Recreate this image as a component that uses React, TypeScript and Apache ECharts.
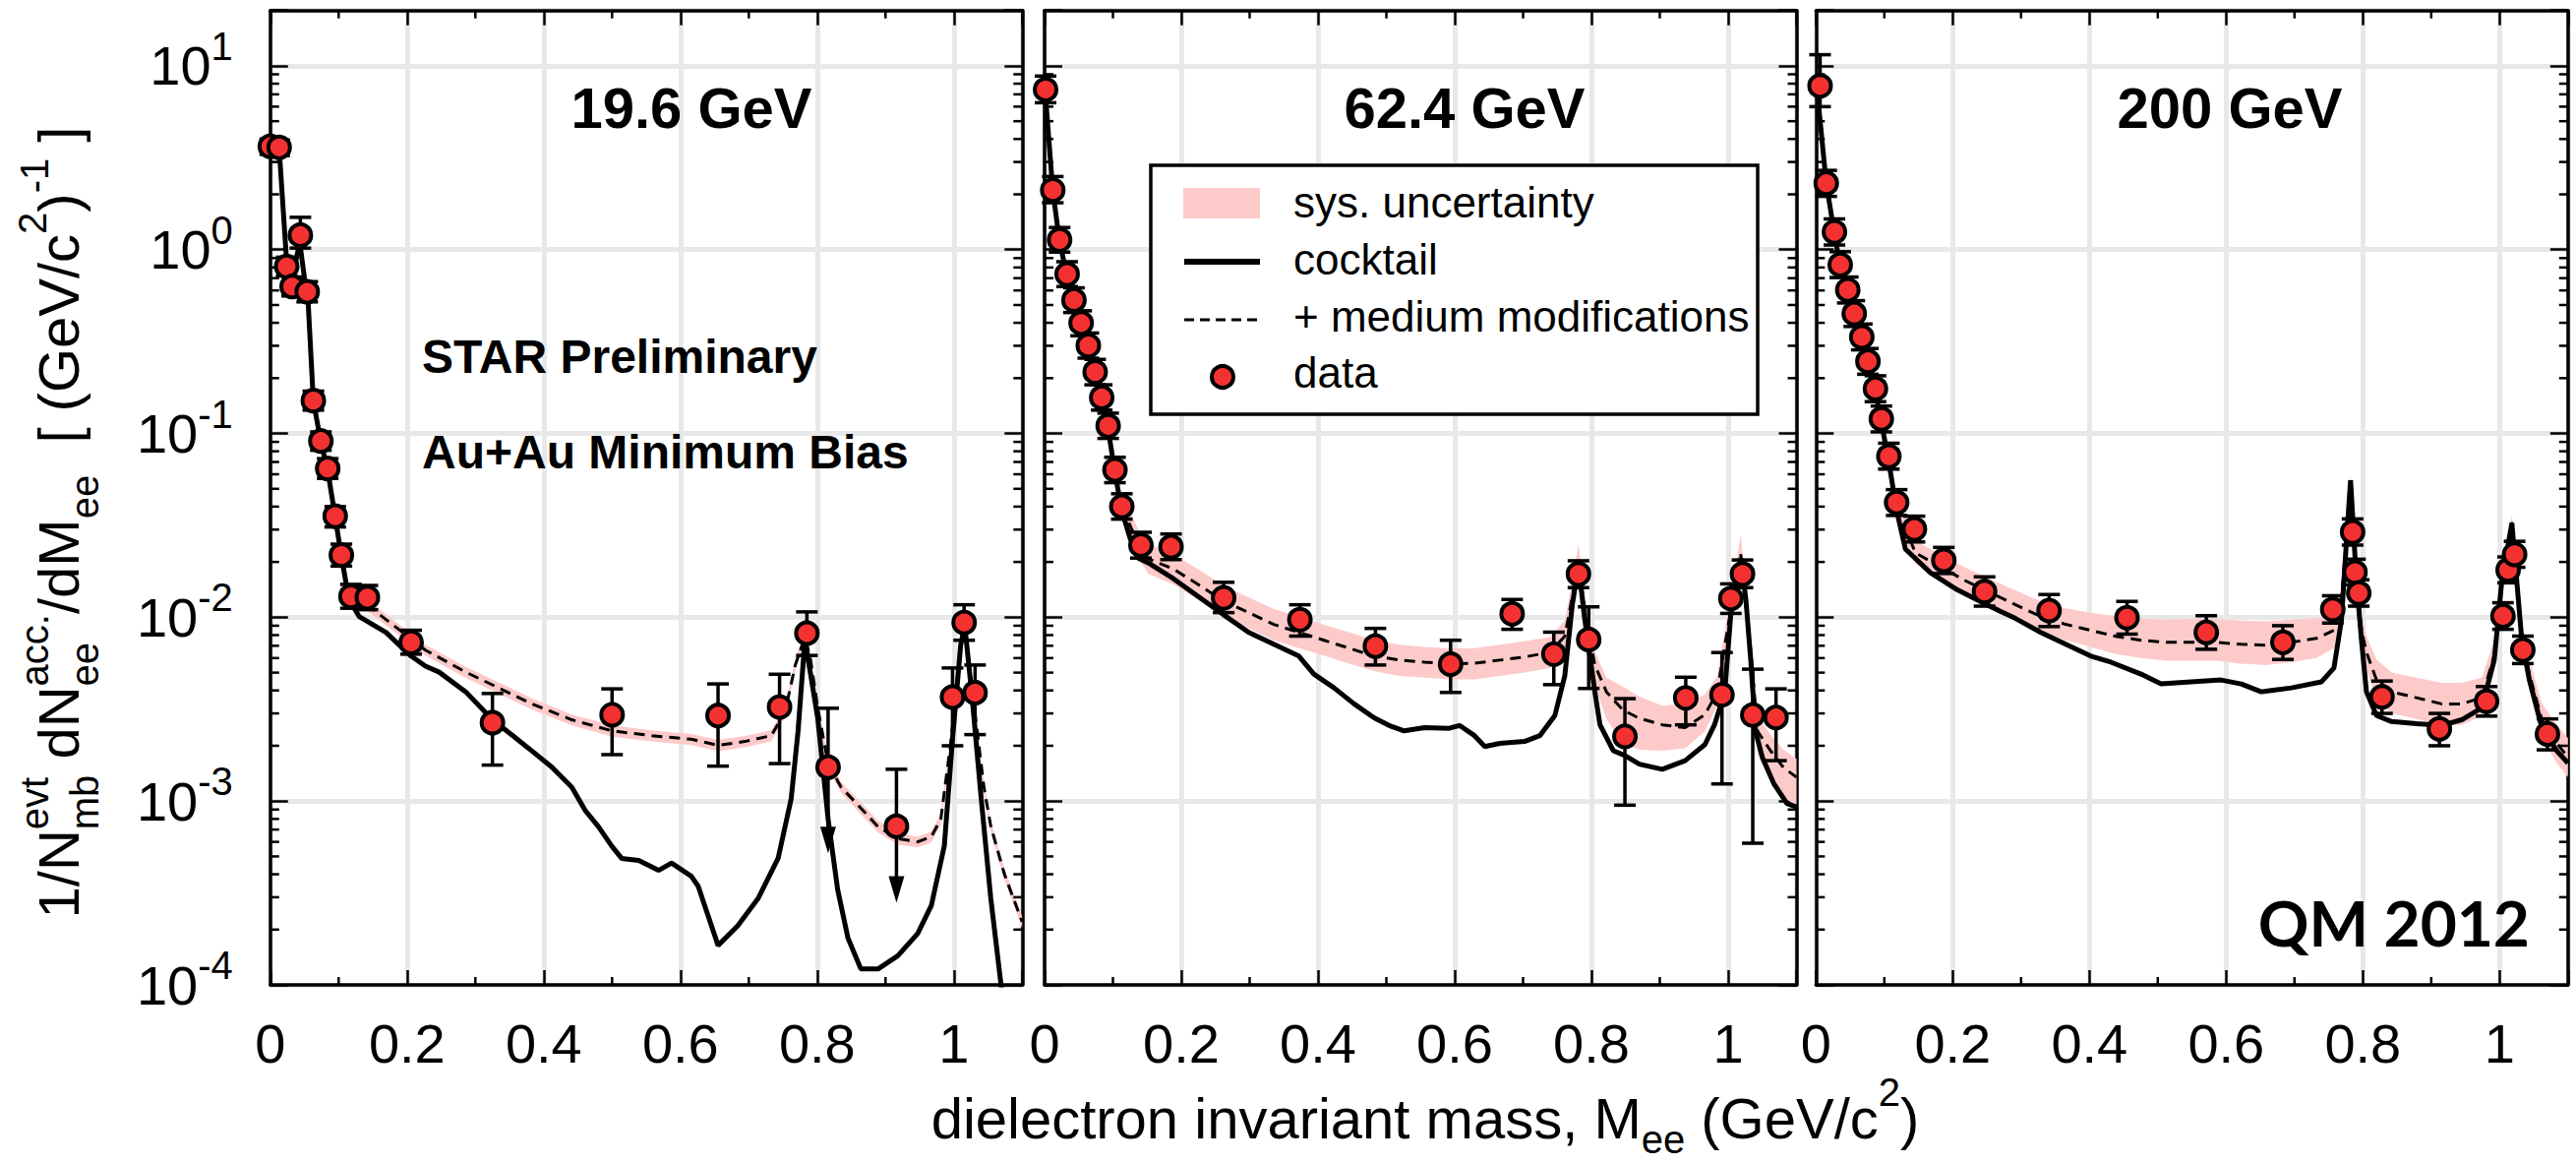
import React, { useEffect, useRef } from "react";
import * as echarts from "echarts";

const FONT = '"Liberation Sans", Arial, Helvetica, sans-serif';
const RED = "#f43131";
const PINK = "#fdcaca";
const GRIDLINE = "#e8e8e8";

// ---------------- 19.6 GeV ----------------
const pt19M = [0.0, 0.013, 0.024, 0.032, 0.044, 0.054, 0.063, 0.074, 0.084, 0.095, 0.104, 0.118, 0.142, 0.206, 0.325, 0.5, 0.655, 0.745, 0.785, 0.816, 0.916, 0.998, 1.015, 1.031];
const pt19Y = [3.65, 3.6, 0.81, 0.63, 1.2, 0.59, 0.151, 0.091, 0.0645, 0.0355, 0.0218, 0.013, 0.0128, 0.0073, 0.00267, 0.00295, 0.00292, 0.00325, 0.0082, 0.00153, 0.00073, 0.00368, 0.00937, 0.00389];
const lo19 = [3.3, 3.25, 0.72, 0.56, 1.02, 0.52, 0.134, 0.081, 0.057, 0.031, 0.019, 0.0112, 0.011, 0.0063, 0.00157, 0.00179, 0.00155, 0.0016, 0.0062, 0.00052, 0.00028, 0.002, 0.0075, 0.0023];
const hi19 = [4.0, 3.95, 0.91, 0.71, 1.5, 0.67, 0.17, 0.102, 0.073, 0.04, 0.025, 0.0151, 0.0149, 0.0085, 0.00385, 0.00408, 0.00434, 0.0049, 0.0107, 0.0032, 0.00149, 0.0053, 0.0117, 0.0055];
const lim19 = [0, 0, 0, 0, 0, 0, 0, 0, 0, 0, 0, 0, 0, 0, 0, 0, 0, 0, 0, 1, 1, 0, 0, 0];
const c19M = [0.0, 0.013, 0.024, 0.034, 0.043, 0.05, 0.055, 0.063, 0.074, 0.084, 0.095, 0.104, 0.115, 0.13, 0.169, 0.206, 0.227, 0.247, 0.286, 0.325, 0.354, 0.383, 0.412, 0.441, 0.461, 0.48, 0.5, 0.514, 0.539, 0.568, 0.587, 0.616, 0.626, 0.655, 0.684, 0.714, 0.743, 0.762, 0.772, 0.782, 0.79, 0.801, 0.816, 0.83, 0.845, 0.864, 0.889, 0.918, 0.947, 0.967, 0.986, 0.998, 1.01, 1.016, 1.027, 1.04, 1.054, 1.069, 1.085];
const c19Y = [3.8, 3.55, 0.85, 0.75, 1.1, 0.7, 0.55, 0.15, 0.09, 0.063, 0.035, 0.0215, 0.0125, 0.0101, 0.00828, 0.00615, 0.00542, 0.00503, 0.00393, 0.00277, 0.00228, 0.00187, 0.00153, 0.00119, 0.000886, 0.000726, 0.000566, 0.000488, 0.000476, 0.00042, 0.00046, 0.00039, 0.000344, 0.000164, 0.00021, 0.000297, 0.00049, 0.00103, 0.00239, 0.0075, 0.005, 0.0028, 0.0008, 0.00033, 0.00018, 0.000122, 0.000122, 0.000144, 0.00019, 0.00027, 0.00057, 0.00217, 0.0071, 0.009, 0.00356, 0.00103, 0.000296, 0.0001, 0.00004];
const d19M = [0.115, 0.145, 0.188, 0.227, 0.286, 0.334, 0.383, 0.441, 0.5, 0.558, 0.616, 0.655, 0.694, 0.733, 0.753, 0.768, 0.782, 0.79, 0.801, 0.816, 0.835, 0.86, 0.889, 0.918, 0.947, 0.967, 0.981, 0.996, 1.01, 1.016, 1.027, 1.044, 1.054, 1.074, 1.1];
const d19Y = [0.0125, 0.0114, 0.0086, 0.00663, 0.00503, 0.00413, 0.00338, 0.00277, 0.00241, 0.00227, 0.00217, 0.00201, 0.00211, 0.00227, 0.00306, 0.0055, 0.0078, 0.006, 0.0032, 0.0016, 0.00119, 0.00095, 0.000726, 0.000625, 0.0006, 0.00064, 0.0008, 0.00217, 0.0073, 0.0091, 0.004, 0.00119, 0.00073, 0.0004, 0.00022];
const s19Lo = [0.0116, 0.0106, 0.008, 0.0062, 0.00468, 0.00384, 0.00314, 0.00258, 0.00224, 0.00211, 0.00202, 0.00187, 0.00196, 0.00211, 0.00285, 0.0051, 0.0073, 0.0056, 0.003, 0.00149, 0.00111, 0.00088, 0.000675, 0.00058, 0.00056, 0.000595, 0.00074, 0.002, 0.0068, 0.0085, 0.0037, 0.0011, 0.00068, 0.00037, 0.000205];
const s19Hi = [0.0134, 0.0122, 0.0092, 0.0071, 0.00538, 0.00442, 0.00362, 0.00296, 0.00258, 0.00243, 0.00232, 0.00215, 0.00226, 0.00243, 0.00327, 0.0059, 0.0084, 0.0064, 0.0034, 0.00171, 0.00127, 0.00102, 0.00078, 0.00067, 0.00064, 0.000685, 0.00086, 0.0023, 0.0078, 0.0097, 0.0043, 0.00128, 0.00078, 0.00043, 0.000235];

// ---------------- 62.4 GeV ----------------
const pt62M = [0.0015, 0.012, 0.022, 0.033, 0.043, 0.0535, 0.064, 0.074, 0.0836, 0.093, 0.103, 0.113, 0.141, 0.185, 0.262, 0.3735, 0.484, 0.594, 0.684, 0.745, 0.781, 0.796, 0.849, 0.938, 0.991, 1.004, 1.021, 1.036, 1.07];
const pt62Y = [7.43, 2.11, 1.13, 0.736, 0.532, 0.399, 0.301, 0.216, 0.157, 0.11, 0.0634, 0.0401, 0.0247, 0.0242, 0.01276, 0.0097, 0.00697, 0.00556, 0.01045, 0.0063, 0.0172, 0.00757, 0.00225, 0.00364, 0.00379, 0.01265, 0.0172, 0.00294, 0.00285];
const lo62 = [6.3, 1.8, 0.97, 0.63, 0.455, 0.34, 0.257, 0.184, 0.134, 0.094, 0.054, 0.0342, 0.021, 0.0206, 0.0106, 0.0079, 0.0055, 0.0039, 0.0086, 0.0043, 0.0145, 0.0041, 0.00095, 0.0026, 0.00124, 0.0105, 0.0145, 0.00059, 0.00166];
const hi62 = [8.8, 2.5, 1.32, 0.86, 0.62, 0.465, 0.352, 0.253, 0.184, 0.129, 0.0742, 0.047, 0.029, 0.0284, 0.0155, 0.0117, 0.0087, 0.0075, 0.0125, 0.0083, 0.0203, 0.0114, 0.00361, 0.00472, 0.00643, 0.0152, 0.0205, 0.00522, 0.00408];
const lim62 = pt62M.map(() => 0);
const c62M = [0.0, 0.012, 0.022, 0.033, 0.043, 0.0535, 0.064, 0.074, 0.0836, 0.093, 0.103, 0.113, 0.125, 0.137, 0.152, 0.1886, 0.2253, 0.2615, 0.2987, 0.3354, 0.372, 0.394, 0.4235, 0.4528, 0.482, 0.504, 0.526, 0.556, 0.592, 0.607, 0.629, 0.644, 0.666, 0.702, 0.7245, 0.7465, 0.761, 0.772, 0.781, 0.7905, 0.805, 0.8125, 0.832, 0.849, 0.87, 0.9036, 0.937, 0.966, 0.98, 0.995, 1.004, 1.0185, 1.026, 1.033, 1.04, 1.05, 1.067, 1.086, 1.1];
const c62Y = [8.0, 2.1, 1.1, 0.72, 0.52, 0.39, 0.29, 0.21, 0.152, 0.106, 0.061, 0.038, 0.027, 0.021, 0.01975, 0.0162, 0.01294, 0.01035, 0.00828, 0.00713, 0.00615, 0.00491, 0.00413, 0.00338, 0.00284, 0.00258, 0.00241, 0.00251, 0.00249, 0.00258, 0.00227, 0.00198, 0.00206, 0.00211, 0.00227, 0.00292, 0.0048, 0.0117, 0.019, 0.0096, 0.00393, 0.0026, 0.00188, 0.00177, 0.00159, 0.00149, 0.00166, 0.00203, 0.0026, 0.00393, 0.0105, 0.021, 0.0124, 0.0059, 0.0024, 0.00173, 0.00124, 0.00097, 0.00093];
const d62M = [0.113, 0.137, 0.152, 0.1886, 0.2253, 0.2615, 0.2987, 0.3354, 0.372, 0.4088, 0.4455, 0.482, 0.519, 0.556, 0.592, 0.629, 0.666, 0.702, 0.739, 0.761, 0.772, 0.781, 0.7905, 0.805, 0.822, 0.846, 0.87, 0.904, 0.937, 0.966, 0.984, 1.0, 1.0185, 1.034, 1.043, 1.062, 1.081, 1.1];
const d62Y = [0.04, 0.025, 0.0208, 0.0183, 0.01503, 0.0123, 0.0106, 0.00915, 0.00828, 0.0075, 0.00679, 0.00615, 0.00585, 0.0057, 0.00557, 0.00562, 0.00585, 0.00608, 0.00645, 0.00788, 0.0129, 0.02, 0.0106, 0.0055, 0.00393, 0.00313, 0.00282, 0.0026, 0.00251, 0.00295, 0.00393, 0.009, 0.022, 0.006, 0.0024, 0.00188, 0.00152, 0.00135];
const s62Lo = [0.034, 0.021, 0.0172, 0.0151, 0.0124, 0.0101, 0.0087, 0.0075, 0.0068, 0.0062, 0.0056, 0.0051, 0.0048, 0.0047, 0.0046, 0.0046, 0.0048, 0.005, 0.0053, 0.0065, 0.0107, 0.0165, 0.0087, 0.0042, 0.0028, 0.00205, 0.0019, 0.00188, 0.00194, 0.0024, 0.0033, 0.0075, 0.0185, 0.0048, 0.0018, 0.00128, 0.00105, 0.00094];
const s62Hi = [0.047, 0.03, 0.025, 0.022, 0.0182, 0.0149, 0.0128, 0.0111, 0.0101, 0.0091, 0.0083, 0.0075, 0.0071, 0.0069, 0.0068, 0.0068, 0.0071, 0.0074, 0.0078, 0.0096, 0.0157, 0.025, 0.013, 0.0065, 0.0047, 0.0042, 0.0037, 0.0033, 0.0034, 0.0038, 0.0048, 0.011, 0.028, 0.0072, 0.0029, 0.0023, 0.0019, 0.0017];

// ---------------- 200 GeV ----------------
const pt200M = [0.006, 0.015, 0.027, 0.0355, 0.0465, 0.056, 0.067, 0.076, 0.087, 0.0956, 0.1066, 0.118, 0.144, 0.187, 0.2466, 0.341, 0.455, 0.571, 0.683, 0.756, 0.785, 0.7885, 0.794, 0.828, 0.912, 0.981, 1.005, 1.0125, 1.022, 1.034, 1.07];
const pt200Y = [7.78, 2.3, 1.25, 0.829, 0.604, 0.449, 0.335, 0.247, 0.1755, 0.12, 0.0752, 0.0421, 0.0302, 0.0204, 0.0138, 0.01088, 0.00995, 0.00828, 0.00731, 0.01104, 0.0291, 0.0176, 0.01355, 0.00369, 0.00247, 0.00349, 0.01018, 0.0181, 0.022, 0.00664, 0.00232];
const lo200 = [6.0, 1.95, 1.06, 0.705, 0.513, 0.382, 0.285, 0.21, 0.149, 0.102, 0.064, 0.0358, 0.0257, 0.0173, 0.0115, 0.0089, 0.0081, 0.0067, 0.0059, 0.0093, 0.0247, 0.015, 0.0115, 0.003, 0.002, 0.0029, 0.0086, 0.0154, 0.0187, 0.0056, 0.0019];
const hi200 = [11.5, 2.7, 1.47, 0.975, 0.71, 0.528, 0.394, 0.29, 0.206, 0.141, 0.0885, 0.0495, 0.0355, 0.024, 0.0166, 0.0133, 0.0122, 0.0102, 0.009, 0.0131, 0.0343, 0.0207, 0.016, 0.0045, 0.003, 0.0042, 0.012, 0.0213, 0.0259, 0.0079, 0.0028];
const lim200 = pt200M.map(() => 0);
const c200M = [0.0, 0.015, 0.027, 0.0355, 0.0465, 0.056, 0.067, 0.076, 0.087, 0.0956, 0.1066, 0.118, 0.1308, 0.1675, 0.2042, 0.2554, 0.292, 0.3288, 0.3654, 0.402, 0.4314, 0.4754, 0.5047, 0.5486, 0.5927, 0.622, 0.6514, 0.666, 0.6954, 0.7393, 0.7577, 0.7686, 0.776, 0.782, 0.7906, 0.798, 0.8053, 0.82, 0.842, 0.8786, 0.9153, 0.9446, 0.974, 0.9922, 1.0033, 1.018, 1.0325, 1.0436, 1.062, 1.084, 1.1];
const c200Y = [8.5, 2.3, 1.22, 0.81, 0.59, 0.44, 0.33, 0.24, 0.17, 0.115, 0.07, 0.038, 0.0235, 0.01746, 0.01429, 0.01143, 0.00985, 0.00828, 0.00713, 0.00615, 0.0057, 0.00491, 0.00434, 0.00445, 0.00456, 0.00434, 0.00393, 0.004, 0.00413, 0.00445, 0.0053, 0.0096, 0.026, 0.0556, 0.0158, 0.0075, 0.00393, 0.00292, 0.00271, 0.00264, 0.00258, 0.00277, 0.00322, 0.00585, 0.0158, 0.0325, 0.0075, 0.00456, 0.00251, 0.00187, 0.00161];
const d200M = [0.118, 0.1455, 0.1822, 0.2187, 0.2554, 0.292, 0.3288, 0.3654, 0.402, 0.4387, 0.4754, 0.512, 0.5486, 0.5853, 0.622, 0.6587, 0.6954, 0.732, 0.7577, 0.7686, 0.776, 0.782, 0.7906, 0.798, 0.8053, 0.82, 0.842, 0.8786, 0.9153, 0.9446, 0.974, 0.9922, 1.0033, 1.018, 1.0325, 1.0436, 1.062, 1.084, 1.1];
const d200Y = [0.04, 0.0224, 0.0188, 0.0158, 0.0136, 0.0117, 0.0101, 0.00915, 0.00849, 0.00788, 0.0075, 0.00731, 0.00731, 0.00731, 0.00713, 0.00705, 0.00731, 0.00768, 0.00849, 0.0123, 0.027, 0.0556, 0.0165, 0.0085, 0.00645, 0.00456, 0.00393, 0.00365, 0.00338, 0.00338, 0.00365, 0.0062, 0.016, 0.033, 0.0078, 0.0049, 0.00277, 0.00206, 0.00173];
const s200Lo = [0.034, 0.0195, 0.0162, 0.0135, 0.0115, 0.0098, 0.0084, 0.0075, 0.0069, 0.0063, 0.006, 0.0058, 0.0058, 0.0058, 0.0056, 0.0055, 0.0057, 0.006, 0.0068, 0.0105, 0.024, 0.05, 0.014, 0.0072, 0.0052, 0.0036, 0.003, 0.0028, 0.0026, 0.0026, 0.0029, 0.0052, 0.014, 0.03, 0.0066, 0.004, 0.0022, 0.0016, 0.00135];
const s200Hi = [0.047, 0.026, 0.022, 0.0186, 0.0161, 0.014, 0.0122, 0.0112, 0.0106, 0.0101, 0.0098, 0.0097, 0.0098, 0.0098, 0.0096, 0.0095, 0.0097, 0.0099, 0.0104, 0.0145, 0.03, 0.061, 0.0195, 0.0102, 0.0079, 0.0059, 0.005, 0.0047, 0.0044, 0.0044, 0.0047, 0.0075, 0.0185, 0.036, 0.0093, 0.0059, 0.0034, 0.0026, 0.0022];

const ENERGY_LABELS = ["19.6 GeV", "62.4 GeV", "200 GeV"];
const LEGEND_LABELS = ["sys. uncertainty", "cocktail", "+ medium modifications", "data"];

// axis ranges
const X_MAX = 1.1;
const X_STEP = 0.2;
const X_MINOR = [0.1, 0.3, 0.5, 0.7, 0.9];
const Y_MIN = 1e-4;
const Y_MAX = 20;

const PANELS = [
  { m: pt19M, y: pt19Y, lo: lo19, hi: hi19, lim: lim19, cm: c19M, cy: c19Y, dm: d19M, dy: d19Y, sLo: s19Lo, sHi: s19Hi },
  { m: pt62M, y: pt62Y, lo: lo62, hi: hi62, lim: lim62, cm: c62M, cy: c62Y, dm: d62M, dy: d62Y, sLo: s62Lo, sHi: s62Hi },
  { m: pt200M, y: pt200Y, lo: lo200, hi: hi200, lim: lim200, cm: c200M, cy: c200Y, dm: d200M, dy: d200Y, sLo: s200Lo, sHi: s200Hi },
];

// frame geometry (px)
const PLOT_TOP = 10.7;
const PLOT_H = 990.3;
const PLOT_W = 764.5;
const PLOT_LEFTS = [274.8, 1062, 1846.3];

// log minor tick positions 2..9 x 10^n
const Y_MINOR: number[] = [];
for (let e = -4; e <= 0; e++) for (let k = 2; k <= 9; k++) Y_MINOR.push(k * Math.pow(10, e));

const LINE = { color: "#000", width: 3.5 };

function xLabel(v: number) {
  const t = Math.round(v * 10);
  if (t > 10 || t % 2 !== 0) return "";
  if (t === 0) return "0";
  if (t === 10) return "1";
  return (t / 10).toFixed(1);
}

function decadeLabel(v: number) {
  const e = Math.round(Math.log10(v));
  if (Math.abs(v / Math.pow(10, e) - 1) > 1e-6) return "";
  return `{b|10}{s|${e}}`;
}

type Piece = { t: string; size: number; dy: number };
type Slot = Piece | Piece[];

function textEl(x: number, y: number, text: string, size: number, weight: string, align: string, extra: any = {}) {
  return {
    type: "text",
    x,
    y,
    z: 60,
    style: {
      text,
      fontSize: size,
      fontFamily: extra.family || FONT,
      fontWeight: weight,
      fill: "#000",
      align,
      textAlign: align,
      verticalAlign: "middle",
      textVerticalAlign: "middle",
    },
  };
}

function buildPieces(slots: Slot[]) {
  const canvas = document.createElement("canvas");
  const ctx = canvas.getContext("2d") as CanvasRenderingContext2D;
  let x = 0;
  const children: any[] = [];
  for (const s of slots) {
    const group = Array.isArray(s) ? s : [s];
    let w = 0;
    for (const p of group) {
      children.push(textEl(x, p.dy - 0.35 * p.size, p.t, p.size, "normal", "left"));
      ctx.font = `${p.size}px "Liberation Sans"`;
      w = Math.max(w, ctx.measureText(p.t).width);
    }
    x += w;
  }
  return { children, width: x };
}

function buildOption() {
  const grid = PLOT_LEFTS.map((l) => ({ left: l, top: PLOT_TOP, width: PLOT_W, height: PLOT_H }));
  const xAxis: any[] = [];
  const yAxis: any[] = [];
  const series: any[] = [];

  PLOT_LEFTS.forEach((_, gi) => {
    const xCommon = {
      type: "value",
      gridIndex: gi,
      min: 0,
      max: X_MAX,
      interval: X_STEP,
      axisLine: { show: true, onZero: false, lineStyle: LINE },
      axisTick: { show: true, inside: true, length: 15, lineStyle: { color: "#000", width: 2.5 } },
    };
    xAxis.push({
      ...xCommon,
      position: "bottom",
      axisLabel: { show: true, formatter: xLabel, fontSize: 56, fontFamily: FONT, color: "#000", margin: 31 },
      splitLine: { show: true, lineStyle: { color: GRIDLINE, width: 5 } },
    });
    xAxis.push({ ...xCommon, position: "top", axisLabel: { show: false }, splitLine: { show: false } });

    const yCommon = {
      type: "log",
      logBase: 10,
      gridIndex: gi,
      min: Y_MIN,
      max: Y_MAX,
      axisLine: { show: true, onZero: false, lineStyle: LINE },
      axisTick: { show: true, inside: true, length: 18, lineStyle: { color: "#000", width: 2.5 } },
    };
    yAxis.push({
      ...yCommon,
      position: "left",
      axisLabel: {
        show: gi === 0,
        formatter: decadeLabel,
        margin: 38,
        color: "#000",
        rich: {
          b: { fontSize: 56, lineHeight: 80, fontFamily: FONT, color: "#000" },
          s: { fontSize: 40, lineHeight: 33, verticalAlign: "top", fontFamily: FONT, color: "#000" },
        },
      },
      splitLine: { show: true, lineStyle: { color: GRIDLINE, width: 5 } },
    });
    yAxis.push({ ...yCommon, position: "right", axisLabel: { show: false }, splitLine: { show: false } });

    const P = PANELS[gi];
    const xi = gi * 2;
    const yi = gi * 2;

    // systematic band around the medium-modified curve
    series.push({
      type: "custom",
      xAxisIndex: xi,
      yAxisIndex: yi,
      z: 1,
      clip: true,
      silent: true,
      data: P.dm.map((m, k) => [m, P.sLo[k], P.sHi[k]]),
      encode: { x: 0, y: [1, 2] },
      renderItem: (params: any, api: any) => {
        if (params.dataIndex !== 0) return null;
        const upper = P.dm.map((m, k) => api.coord([m, P.sHi[k]]));
        const lower = P.dm.map((m, k) => api.coord([m, P.sLo[k]])).reverse();
        return { type: "polygon", shape: { points: upper.concat(lower) }, style: { fill: PINK } };
      },
    });

    // log minor ticks on both vertical edges
    series.push({
      type: "custom",
      xAxisIndex: xi,
      yAxisIndex: yi,
      z: 2,
      silent: true,
      data: Y_MINOR.map((v) => [0, v]),
      encode: { x: 0, y: 1 },
      renderItem: (params: any, api: any) => {
        const v = api.value(1);
        const l = api.coord([0, v]);
        const r = api.coord([X_MAX, v]);
        const st = { stroke: "#000", lineWidth: 2.5 };
        return {
          type: "group",
          children: [
            { type: "line", shape: { x1: l[0], y1: l[1], x2: l[0] + 9, y2: l[1] }, style: st },
            { type: "line", shape: { x1: r[0] - 9, y1: r[1], x2: r[0], y2: r[1] }, style: st },
          ],
        };
      },
    });

    // mass minor ticks on top and bottom edges
    series.push({
      type: "custom",
      xAxisIndex: xi,
      yAxisIndex: yi,
      z: 2,
      silent: true,
      data: X_MINOR.map((m) => [m, Y_MIN]),
      encode: { x: 0, y: 1 },
      renderItem: (params: any, api: any) => {
        const m = api.value(0);
        const b = api.coord([m, Y_MIN]);
        const t = api.coord([m, Y_MAX]);
        const st = { stroke: "#000", lineWidth: 2.5 };
        return {
          type: "group",
          children: [
            { type: "line", shape: { x1: b[0], y1: b[1], x2: b[0], y2: b[1] - 8 }, style: st },
            { type: "line", shape: { x1: t[0], y1: t[1], x2: t[0], y2: t[1] + 8 }, style: st },
          ],
        };
      },
    });

    // hadronic cocktail
    series.push({
      type: "line",
      xAxisIndex: xi,
      yAxisIndex: yi,
      z: 3,
      symbol: "none",
      silent: true,
      clip: true,
      data: P.cm.map((m, k) => [m, P.cy[k]]),
      lineStyle: { color: "#000", width: 5 },
    });

    // cocktail + medium modifications
    series.push({
      type: "line",
      xAxisIndex: xi,
      yAxisIndex: yi,
      z: 4,
      symbol: "none",
      silent: true,
      clip: true,
      data: P.dm.map((m, k) => [m, P.dy[k]]),
      lineStyle: { color: "#000", width: 3, type: [11, 7] },
    });

    // error bars and upper limits
    series.push({
      type: "custom",
      xAxisIndex: xi,
      yAxisIndex: yi,
      z: 5,
      silent: true,
      data: P.m.map((m, k) => [m, P.y[k], P.lo[k], P.hi[k], P.lim[k]]),
      encode: { x: 0, y: 1 },
      renderItem: (params: any, api: any) => {
        const x = api.value(0);
        const lo = api.value(2);
        const hi = api.value(3);
        const lim = api.value(4);
        const top = api.coord([x, hi]);
        const bot = api.coord([x, lo]);
        const CAP = 11;
        const st = { stroke: "#000", lineWidth: 3.5 };
        const children: any[] = [
          { type: "line", shape: { x1: top[0] - CAP, y1: top[1], x2: top[0] + CAP, y2: top[1] }, style: st },
        ];
        if (lim) {
          children.push({ type: "line", shape: { x1: top[0], y1: top[1], x2: bot[0], y2: bot[1] - 20 }, style: st });
          children.push({
            type: "polygon",
            shape: { points: [[bot[0] - 8, bot[1] - 27], [bot[0] + 8, bot[1] - 27], [bot[0], bot[1]]] },
            style: { fill: "#000" },
          });
        } else {
          children.push({ type: "line", shape: { x1: top[0], y1: top[1], x2: bot[0], y2: bot[1] }, style: st });
          children.push({ type: "line", shape: { x1: bot[0] - CAP, y1: bot[1], x2: bot[0] + CAP, y2: bot[1] }, style: st });
        }
        return { type: "group", children };
      },
    });

    // measured data
    series.push({
      type: "scatter",
      xAxisIndex: xi,
      yAxisIndex: yi,
      z: 6,
      silent: true,
      symbol: "circle",
      symbolSize: 22,
      data: P.m.map((m, k) => [m, P.y[k]]),
      itemStyle: { color: RED, borderColor: "#000", borderWidth: 4, opacity: 1 },
    });
  });

  // ---- texts & legend ----
  const graphic: any[] = [];

  const yTitle = buildPieces([
    { t: "1/N", size: 58, dy: 0 },
    [
      { t: "evt", size: 40, dy: -31 },
      { t: "mb", size: 40, dy: 20 },
    ],
    { t: " dN", size: 58, dy: 0 },
    [
      { t: "acc.", size: 40, dy: -31 },
      { t: "ee", size: 40, dy: 20 },
    ],
    { t: "/dM", size: 58, dy: 0 },
    { t: "ee", size: 40, dy: 20 },
    { t: "  [ (GeV/c", size: 58, dy: 0 },
    { t: "2", size: 40, dy: -33 },
    { t: ")", size: 58, dy: 0 },
    { t: "-1", size: 40, dy: -31 },
    { t: " ]", size: 58, dy: 0 },
  ]);
  graphic.push({ type: "group", x: 80, y: 531 + yTitle.width / 2, rotation: Math.PI / 2, children: yTitle.children });

  const xTitle = buildPieces([
    { t: "dielectron invariant mass, M", size: 58, dy: 0 },
    { t: "ee", size: 40, dy: 15 },
    { t: " (GeV/c", size: 58, dy: 0 },
    { t: "2", size: 40, dy: -33 },
    { t: ")", size: 58, dy: 0 },
  ]);
  graphic.push({ type: "group", x: 1449 - xTitle.width / 2, y: 1157, children: xTitle.children });

  const titleX = [703, 1489, 2267];
  ENERGY_LABELS.forEach((t, i) => graphic.push(textEl(titleX[i], 130 - 0.35 * 58, t, 58, "bold", "center")));
  graphic.push(textEl(429, 379 - 0.35 * 48, "STAR Preliminary", 48, "bold", "left"));
  graphic.push(textEl(429, 476 - 0.35 * 48, "Au+Au Minimum Bias", 48, "bold", "left"));
  graphic.push(textEl(2572, 961 - 0.36 * 64, "QM 2012", 64, "bold", "right", { family: "Lato, 'DejaVu Sans', sans-serif" }));

  // legend box
  graphic.push({
    type: "rect",
    z: 50,
    shape: { x: 1170, y: 168, width: 617, height: 253 },
    style: { fill: "#fff", stroke: "#000", lineWidth: 3.5 },
  });
  graphic.push({ type: "rect", z: 55, shape: { x: 1203, y: 191, width: 78, height: 31 }, style: { fill: PINK } });
  graphic.push({ type: "line", z: 55, shape: { x1: 1204, y1: 266, x2: 1281, y2: 266 }, style: { stroke: "#000", lineWidth: 6 } });
  graphic.push({
    type: "line",
    z: 55,
    shape: { x1: 1204, y1: 325, x2: 1281, y2: 325 },
    style: { stroke: "#000", lineWidth: 3, lineDash: [10, 6] },
  });
  graphic.push({ type: "circle", z: 55, shape: { cx: 1243, cy: 383, r: 11 }, style: { fill: RED, stroke: "#000", lineWidth: 4 } });
  const legendBase = [221, 279, 337, 394];
  LEGEND_LABELS.forEach((t, i) => graphic.push(textEl(1315, legendBase[i] - 0.35 * 44, t, 44, "normal", "left")));

  return {
    animation: false,
    backgroundColor: "#fff",
    textStyle: { fontFamily: FONT },
    grid,
    xAxis,
    yAxis,
    series,
    graphic,
  };
}

export default function App() {
  const ref = useRef<HTMLDivElement>(null);
  useEffect(() => {
    if (!ref.current) return;
    const chart = echarts.init(ref.current, null, { renderer: "svg" });
    chart.setOption(buildOption() as any);
    return () => chart.dispose();
  }, []);
  return (
    <div
      ref={ref}
      style={{ position: "fixed", left: 0, top: 0, width: 2619, height: 1182, background: "#fff" }}
    />
  );
}
